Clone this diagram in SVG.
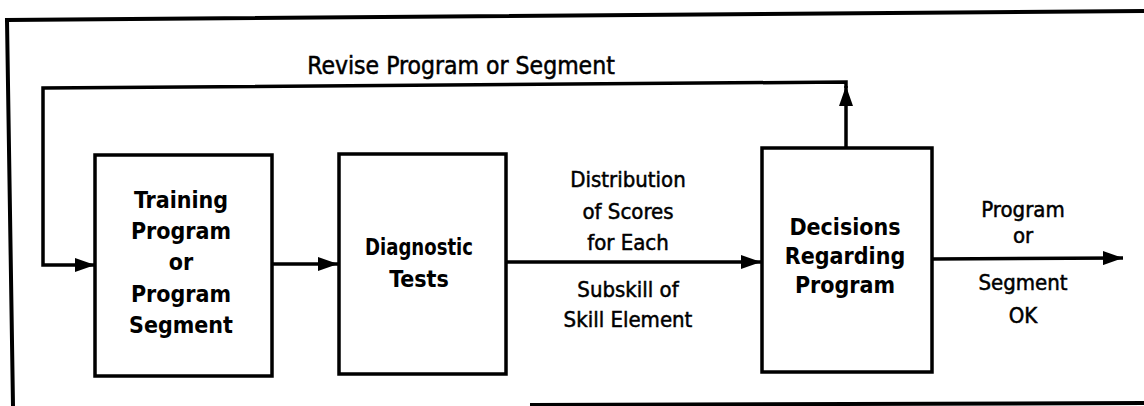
<svg xmlns="http://www.w3.org/2000/svg" width="1144" height="406" viewBox="0 0 1144 406">
  <style>
    .frame { fill: none; stroke: #000; stroke-width: 4; }
    .box { fill: #fff; stroke: #000; stroke-width: 3.5; }
    .wire { fill: none; stroke: #000; stroke-width: 3.5; }
    .title { font-family: "DejaVu Sans Condensed", "Liberation Sans", sans-serif; font-weight: bold; font-size: 23px; fill: #000; text-anchor: middle; }
    .label { font-family: "DejaVu Sans Condensed", "Liberation Sans", sans-serif; font-size: 22px; fill: #000; stroke: #000; stroke-width: 0.5; text-anchor: middle; }
  </style>
  <defs>
    <marker id="arrow" viewBox="0 0 20 14" refX="20" refY="7" markerWidth="20" markerHeight="14" markerUnits="userSpaceOnUse" orient="auto">
      <path d="M0,0 L20,7 L0,14 Z" fill="#000"/>
    </marker>
  </defs>
  <rect width="1144" height="406" fill="#fff"/>

  <!-- outer border -->
  <path class="frame" d="M1144,11 L7,20 L13,406"/>
  <path class="frame" d="M530,405 L1144,403"/>

  <!-- connectors -->
  <g id="connectors">
    <path class="wire" d="M846,148 L846,86" marker-end="url(#arrow)"/>
    <path class="wire" d="M846,88 L846,82 L43,88 L43,265 L95,265" marker-end="url(#arrow)"/>
    <path class="wire" d="M272,264 L338,264" marker-end="url(#arrow)"/>
    <path class="wire" d="M506,262 L761,262" marker-end="url(#arrow)"/>
    <path class="wire" d="M932,259 L1123,258" marker-end="url(#arrow)"/>
  </g>

  <!-- edge labels -->
  <g id="labels">
    <text class="label" x="461" y="74" style="font-size:24.5px">Revise Program or Segment</text>
    <text class="label" x="628" y="187">Distribution</text>
    <text class="label" x="628" y="219">of Scores</text>
    <text class="label" x="628" y="250">for Each</text>
    <text class="label" x="628" y="297">Subskill of</text>
    <text class="label" x="628" y="327">Skill Element</text>
    <text class="label" x="1023" y="217">Program</text>
    <text class="label" x="1023" y="243">or</text>
    <text class="label" x="1023" y="290">Segment</text>
    <text class="label" x="1023" y="323">OK</text>
  </g>

  <g id="training">
    <rect class="box" x="95" y="155" width="177" height="221"/>
    <text class="title" x="181" y="208">Training</text>
    <text class="title" x="181" y="239">Program</text>
    <text class="title" x="181" y="270">or</text>
    <text class="title" x="181" y="302">Program</text>
    <text class="title" x="181" y="333">Segment</text>
  </g>

  <g id="diagnostic">
    <rect class="box" x="339" y="154" width="167" height="220"/>
    <text class="title" x="419" y="255" textLength="108" lengthAdjust="spacingAndGlyphs">Diagnostic</text>
    <text class="title" x="419" y="287">Tests</text>
  </g>

  <g id="decisions">
    <rect class="box" x="762" y="148" width="170" height="224"/>
    <text class="title" x="845" y="235">Decisions</text>
    <text class="title" x="845" y="264">Regarding</text>
    <text class="title" x="845" y="293">Program</text>
  </g>
</svg>
